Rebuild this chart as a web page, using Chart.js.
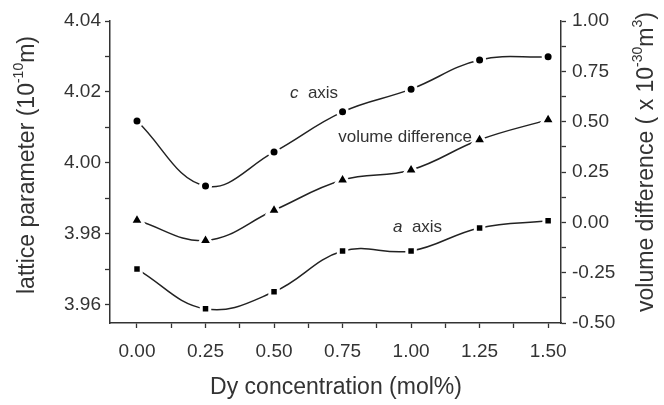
<!DOCTYPE html>
<html>
<head>
<meta charset="utf-8">
<script src="https://cdn.jsdelivr.net/npm/chart.js@4.4.1/dist/chart.umd.min.js"></script>
<style>
  html, body { margin: 0; padding: 0; background: #fff; }
  #wrap { width: 664px; height: 405px; position: relative; }
</style>
</head>
<body>
<div id="wrap"><canvas id="chart"></canvas></div>
<script>
/* Data */
const concentration = [0.00, 0.25, 0.50, 0.75, 1.00, 1.25, 1.50];
const cAxis = [4.0118, 3.9935, 4.0031, 4.0144, 4.0208, 4.0290, 4.0299];
const aAxis = [3.9701, 3.9589, 3.9637, 3.9752, 3.9752, 3.9817, 3.9837];
const volumeDiff = [0.01, -0.09, 0.06, 0.21, 0.26, 0.41, 0.51];

const xTicks = [0.00, 0.25, 0.50, 0.75, 1.00, 1.25, 1.50];
const leftTicks = [3.96, 3.98, 4.00, 4.02, 4.04];
const rightTicks = [-0.50, -0.25, 0.00, 0.25, 0.50, 0.75, 1.00];

const INK = '#333333';
const LINE = '#222222';
const FONT = "'Liberation Sans', Arial, sans-serif";

/* major ticks plus the unlabelled minor ticks half-way between them */
function withMinors(majors) {
    const out = [];
    majors.forEach((v, i) => {
        out.push({ value: v });
        if (i < majors.length - 1) out.push({ value: (v + majors[i + 1]) / 2, minor: true });
    });
    return out;
}

function isMajor(majors, v) {
    return majors.some(m => Math.abs(m - v) < 1e-6);
}

function points(ys) {
    return concentration.map((x, i) => ({ x: x, y: ys[i] }));
}

function series(label, ys, axis, style, radius) {
    return {
        label: label,
        data: points(ys),
        yAxisID: axis,
        borderColor: LINE,
        borderWidth: 1.5,
        tension: 0.4,
        pointStyle: style,
        pointRadius: radius,
        pointBackgroundColor: '#000',
        pointBorderColor: '#fff',
        pointBorderWidth: 3,
        pointHoverRadius: radius
    };
}

function axisGrid() {
    return {
        display: true,
        drawOnChartArea: false,
        drawTicks: true,
        tickLength: 5,
        tickColor: INK,
        tickWidth: 1.3
    };
}

/* axis titles with superscripts and the in-plot labels */
function drawRuns(ctx, runs, x, y, size) {
    let total = 0;
    runs.forEach(r => {
        ctx.font = (r.sup ? Math.round(size * 0.6) : size) + 'px ' + FONT;
        total += ctx.measureText(r.t).width;
    });
    let cx = x - total / 2;
    runs.forEach(r => {
        const s = r.sup ? Math.round(size * 0.6) : size;
        ctx.font = s + 'px ' + FONT;
        ctx.fillText(r.t, cx, r.sup ? y - size * 0.38 : y);
        cx += ctx.measureText(r.t).width;
    });
}

const textPlugin = {
    id: 'texts',
    afterDraw(chart) {
        const ctx = chart.ctx;
        const xs = chart.scales.x;
        const yl = chart.scales.yLeft;
        ctx.save();
        ctx.fillStyle = INK;
        ctx.textBaseline = 'middle';
        ctx.textAlign = 'left';

        // left axis title
        ctx.save();
        ctx.translate(28, 165);
        ctx.rotate(-Math.PI / 2);
        drawRuns(ctx, [{ t: 'lattice parameter (10' }, { t: '-10', sup: true }, { t: 'm)' }], 0, 0, 23);
        ctx.restore();

        // right axis title
        ctx.save();
        ctx.translate(647, 162);
        ctx.rotate(-Math.PI / 2);
        drawRuns(ctx, [{ t: 'volume difference ( x 10' }, { t: '-30', sup: true }, { t: 'm' }, { t: '3', sup: true }, { t: ')' }], 0, 0, 23);
        ctx.restore();

        // x axis title
        drawRuns(ctx, [{ t: 'Dy concentration (mol%)' }], 336, 388, 23);

        // curve labels, anchored in data units
        const labels = [
            { italic: 'c', rest: '  axis', x: 0.558, y: 4.0197 },
            { italic: '', rest: 'volume difference', x: 0.734, y: 4.0073 },
            { italic: 'a', rest: '  axis', x: 0.934, y: 3.9820 }
        ];
        labels.forEach(l => {
            let px = xs.getPixelForValue(l.x);
            const py = yl.getPixelForValue(l.y);
            if (l.italic) {
                ctx.font = 'italic 17px ' + FONT;
                ctx.fillText(l.italic, px, py);
                px += ctx.measureText(l.italic).width;
            }
            ctx.font = '17px ' + FONT;
            ctx.fillText(l.rest, px, py);
        });
        ctx.restore();
    }
};

new Chart(document.getElementById('chart'), {
    type: 'line',
    data: {
        datasets: [
            series('c axis', cAxis, 'yLeft', 'circle', 5),
            series('a axis', aAxis, 'yLeft', 'rect', 6),
            series('volume difference', volumeDiff, 'yRight', 'triangle', 8)
        ]
    },
    options: {
        animation: false,
        responsive: true,
        maintainAspectRatio: false,
        layout: { padding: { top: 21, left: 0, right: 0, bottom: 0 } },
        plugins: {
            legend: { display: false },
            tooltip: { enabled: false }
        },
        scales: {
            x: {
                type: 'linear',
                min: -0.0985,
                max: 1.547,
                afterBuildTicks: s => { s.ticks = withMinors(xTicks); },
                afterFit: s => { s.height = 82; },
                ticks: {
                    color: INK,
                    font: { family: FONT, size: 19 },
                    padding: 12,
                    maxRotation: 0,
                    autoSkip: false,
                    callback: v => isMajor(xTicks, v) ? v.toFixed(2) : ''
                },
                grid: axisGrid(),
                border: { display: true, color: INK, width: 1.5 }
            },
            yLeft: {
                type: 'linear',
                position: 'left',
                min: 3.9549,
                max: 4.04,
                afterBuildTicks: s => { s.ticks = withMinors(leftTicks); },
                afterFit: s => { s.width = 110; },
                ticks: {
                    color: INK,
                    font: { family: FONT, size: 19 },
                    padding: 4,
                    autoSkip: false,
                    callback: v => isMajor(leftTicks, v) ? v.toFixed(2) : ''
                },
                grid: axisGrid(),
                border: { display: true, color: INK, width: 1.5 }
            },
            yRight: {
                type: 'linear',
                position: 'right',
                min: -0.5,
                max: 1.0,
                afterBuildTicks: s => { s.ticks = withMinors(rightTicks); },
                afterFit: s => { s.width = 103; },
                ticks: {
                    color: INK,
                    font: { family: FONT, size: 19 },
                    padding: 6,
                    autoSkip: false,
                    callback: v => isMajor(rightTicks, v) ? v.toFixed(2) : ''
                },
                grid: axisGrid(),
                border: { display: true, color: INK, width: 1.5 }
            }
        }
    },
    plugins: [textPlugin]
});
</script>
</body>
</html>
